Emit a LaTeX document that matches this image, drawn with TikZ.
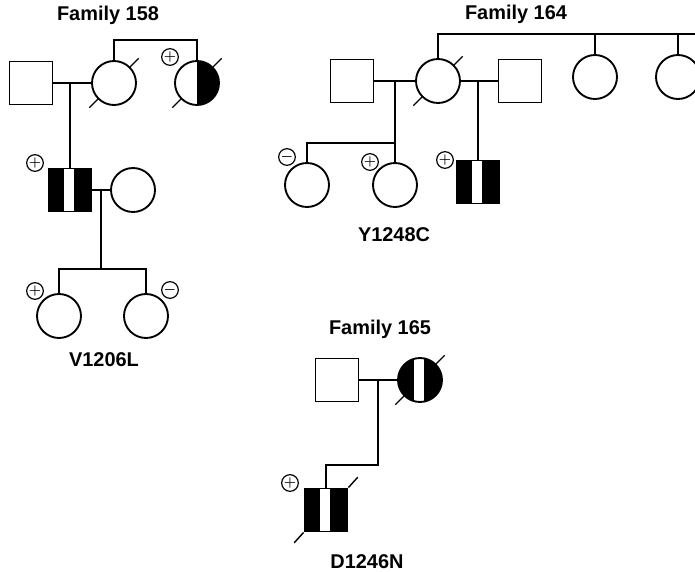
\documentclass[tikz,border=0pt]{standalone}
\usepackage{fontspec}
\setmainfont{Liberation Sans}
\usetikzlibrary{calc}

\tikzset{
  male/.style={draw, rectangle, minimum size=1.29cm, inner sep=0pt},
  female/.style={draw, circle, minimum size=1.32cm, inner sep=0pt},
  carrier/.style={path picture={\fill (path picture bounding box.south) rectangle (path picture bounding box.north east);}},
  barred/.style={path picture={
    \fill (path picture bounding box.south west) rectangle (path picture bounding box.north east);
    \fill[white] ($(path picture bounding box.south)+(-0.18cm,0)$) rectangle ($(path picture bounding box.north)+(0.13cm,0)$);}},
  sign/.style={draw, circle, minimum size=0.5cm, inner sep=0pt, line width=1pt, font=\fontsize{12}{12}\selectfont\boldmath},
  tick/.style={line width=1.2pt},
  title/.style={font=\fontsize{17}{20}\selectfont\bfseries},
}

\begin{document}
\begin{tikzpicture}[x=0.03cm, y=-0.03cm, line width=1.6pt]
\useasboundingbox (0,0) rectangle (695,572);

% Family 158
\node[title] (t158) at (108,15) {Family 158};
\node[male] (f158a) at (31,83) {};
\node[female] (f158b) at (114,83) {};
\node[female, carrier] (f158c) at (197,83) {};
\node[male, barred] (f158d) at (70,190) {};
\node[female] (f158e) at (133,190) {};
\node[female] (f158f) at (59,316) {};
\node[female] (f158g) at (146,316) {};
\coordinate (top158) at (155,40);
\coordinate (m158a) at (70,83);
\coordinate (m158b) at (101,190);
\coordinate (s158) at (101,269);
\draw (f158a) -- (f158b);
\draw (f158b.north) |- (top158) -| (f158c.north);
\draw (m158a) -- (f158d);
\draw (f158d) -- (f158e);
\draw (m158b) -- (s158);
\draw (f158f.north) |- (s158) -| (f158g.north);
\node[sign] (p158c) at (170,57) {$+$};
\node[sign] (p158d) at (35,163) {$+$};
\node[sign] (p158f) at (35,291) {$+$};
\node[sign] (p158g) at (170,290) {$-$};
\node[title] (l158) at (104,360) {V1206L};

% Family 164
\node[title] (t164) at (516,14) {Family 164};
\node[male] (f164a) at (352,81) {};
\node[female] (f164b) at (438,81) {};
\node[male] (f164c) at (520,81) {};
\node[female] (f164d) at (595,77) {};
\node[female] (f164e) at (678,77) {};
\node[female] (f164f) at (307,185) {};
\node[female] (f164g) at (395,185) {};
\node[male, barred] (f164h) at (478,182) {};
\coordinate (top164) at (695,34);
\coordinate (m164a) at (395,81);
\coordinate (s164) at (395,143);
\coordinate (m164b) at (478,81);
\draw (f164a) -- (f164b);
\draw (f164b) -- (f164c);
\draw (f164b.north) |- (top164);
\draw (f164d.north) -- (f164d.north |- top164);
\draw (f164e.north) -- (f164e.north |- top164);
\draw (m164a) -- (f164g);
\draw (f164f.north) |- (s164);
\draw (m164b) -- (f164h);
\node[sign] (p164f) at (287,157) {$-$};
\node[sign] (p164g) at (370,162) {$+$};
\node[sign] (p164h) at (445,160) {$+$};
\node[title] (l164) at (394,235) {Y1248C};

% Family 165
\node[title] (t165) at (380,329) {Family 165};
\node[male] (f165a) at (337,380) {};
\node[female, barred] (f165b) at (420,380) {};
\node[male, barred] (f165c) at (326,510) {};
\coordinate (m165) at (378,380);
\coordinate (k165) at (378,465);
\draw (f165a) -- (f165b);
\draw (m165) -- (k165) -| (f165c);
\node[sign] (p165c) at (290,483) {$+$};
\node[title] (l165) at (367,562) {D1246N};

% ticks
\foreach \n in {f158b,f158c,f164b,f165b} {
  \draw[tick] (\n.45) -- ++(45:0.36cm);
  \draw[tick] (\n.225) -- ++(225:0.36cm);
}
\draw[tick] (f165c.north east) -- ++(48:0.42cm);
\draw[tick] (f165c.south west) -- ++(228:0.42cm);
\end{tikzpicture}
\end{document}
